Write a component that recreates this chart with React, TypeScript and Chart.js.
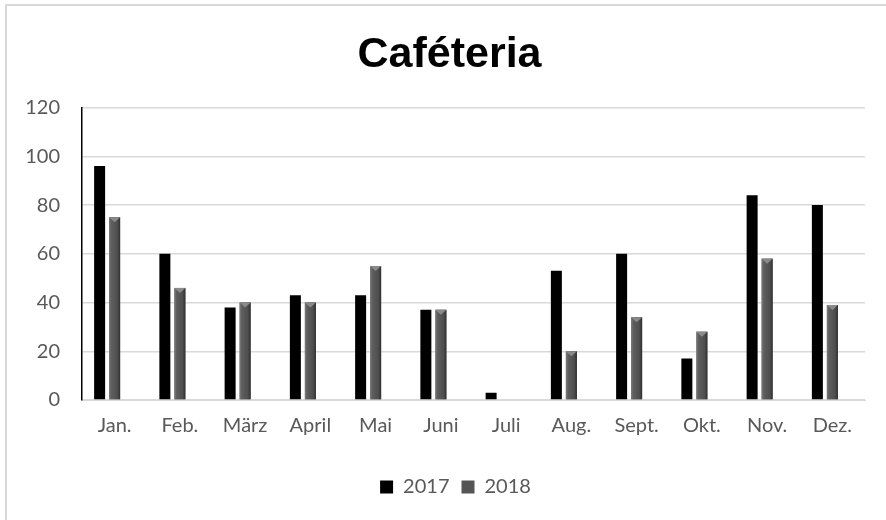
import React, { useEffect, useRef } from "react";
import { Chart, registerables } from "chart.js";

Chart.register(...registerables);

const months = ["Jan.", "Feb.", "März", "April", "Mai", "Juni", "Juli", "Aug.", "Sept.", "Okt.", "Nov.", "Dez."];
const values2017 = [96, 60, 38, 43, 43, 37, 3, 53, 60, 17, 84, 80];
const values2018 = [75, 46, 40, 40, 55, 37, 0, 20, 34, 28, 58, 39];
const emptySlot = months.map(() => null);
const chartTitle = "Caféteria";

const FONT = "Lato, 'Open Sans', sans-serif";

const framePlugin = {
  id: "frame",
  beforeDraw(chart: any) {
    const ctx = chart.ctx;
    ctx.save();
    ctx.fillStyle = "#ffffff";
    ctx.fillRect(0, 0, chart.width, chart.height);
    ctx.strokeStyle = "#d9d9d9";
    ctx.lineWidth = 2;
    ctx.beginPath();
    ctx.moveTo(6, chart.height);
    ctx.lineTo(6, 5);
    ctx.lineTo(chart.width, 5);
    ctx.stroke();
    ctx.restore();
  },
};

const shiftPlugin = {
  id: "shiftBlocks",
  afterLayout(chart: any) {
    const t = chart.titleBlock;
    if (t) {
      t.left += 17;
      t.right += 17;
    }
    const l = chart.legend;
    if (l) {
      l.left += 23;
      l.right += 23;
    }
  },
};

const bevelPlugin = {
  id: "bevel",
  afterDatasetsDraw(chart: any) {
    const meta = chart.getDatasetMeta(1);
    const ctx = chart.ctx;
    ctx.save();
    meta.data.forEach((el: any) => {
      const { x, y, base, width } = el.getProps(["x", "y", "base", "width"], true);
      const h = base - y;
      if (h <= 0.5) return;
      const l = x - width / 2;
      const g = ctx.createLinearGradient(l, 0, l + width, 0);
      g.addColorStop(0, "#7c7c7c");
      g.addColorStop(0.2, "#5e5e5e");
      g.addColorStop(0.75, "#4e4e4e");
      g.addColorStop(1, "#2f2f2f");
      ctx.fillStyle = g;
      ctx.fillRect(l, y, width, h);
      const tri = Math.min(5, h);
      ctx.fillStyle = "#8a8a8a";
      ctx.beginPath();
      ctx.moveTo(l, y);
      ctx.lineTo(l + width, y);
      ctx.lineTo(l + width / 2, y + tri);
      ctx.closePath();
      ctx.fill();
    });
    ctx.restore();
  },
};

export default function App() {
  const ref = useRef<HTMLCanvasElement | null>(null);

  useEffect(() => {
    document.body.style.margin = "0";
    const canvas = ref.current;
    if (!canvas) return;
    const chart = new Chart(canvas, {
      type: "bar",
      data: {
        labels: months,
        datasets: [
          { label: "2017", data: values2017, backgroundColor: "#000000", borderWidth: 0 },
          { label: "2018", data: values2018, backgroundColor: "#555555", borderWidth: 0 },
          { label: "", data: emptySlot as any, backgroundColor: "rgba(0,0,0,0)", borderWidth: 0 },
        ],
      },
      options: {
        responsive: false,
        animation: false,
        categoryPercentage: 0.69,
        barPercentage: 0.733,
        layout: { padding: { left: 0, right: 21, top: 0, bottom: 13 } },
        plugins: {
          title: {
            display: true,
            text: chartTitle,
            color: "#000000",
            font: { family: "'Liberation Sans', Arial, sans-serif", size: 43, weight: "bold" },
            padding: { top: 29, bottom: 27 },
          },
          legend: {
            position: "bottom",
            labels: {
              color: "#595959",
              font: { family: FONT, size: 20 },
              boxWidth: 13,
              boxHeight: 13,
              padding: 12,
              filter: (item: any) => item.text !== "",
            },
          },
          tooltip: { enabled: false },
        },
        scales: {
          x: {
            grid: { display: false },
            border: { display: true, color: "#d9d9d9", width: 1 },
            ticks: { color: "#595959", font: { family: FONT, size: 20 }, padding: 6, maxRotation: 0 },
            afterFit: (s: any) => {
              s.height = 65;
            },
          },
          y: {
            min: 0,
            max: 120,
            ticks: { stepSize: 20, color: "#595959", font: { family: FONT, size: 20 }, padding: 22 },
            grid: { color: "#d9d9d9", lineWidth: 1.5, drawTicks: false },
            border: { display: true, color: "#000000", width: 1.5 },
            afterFit: (s: any) => {
              s.width = 82;
            },
          },
        },
      },
      plugins: [framePlugin, shiftPlugin, bevelPlugin],
    });
    return () => chart.destroy();
  }, []);

  return <canvas ref={ref} width={886} height={520} style={{ display: "block" }} />;
}
